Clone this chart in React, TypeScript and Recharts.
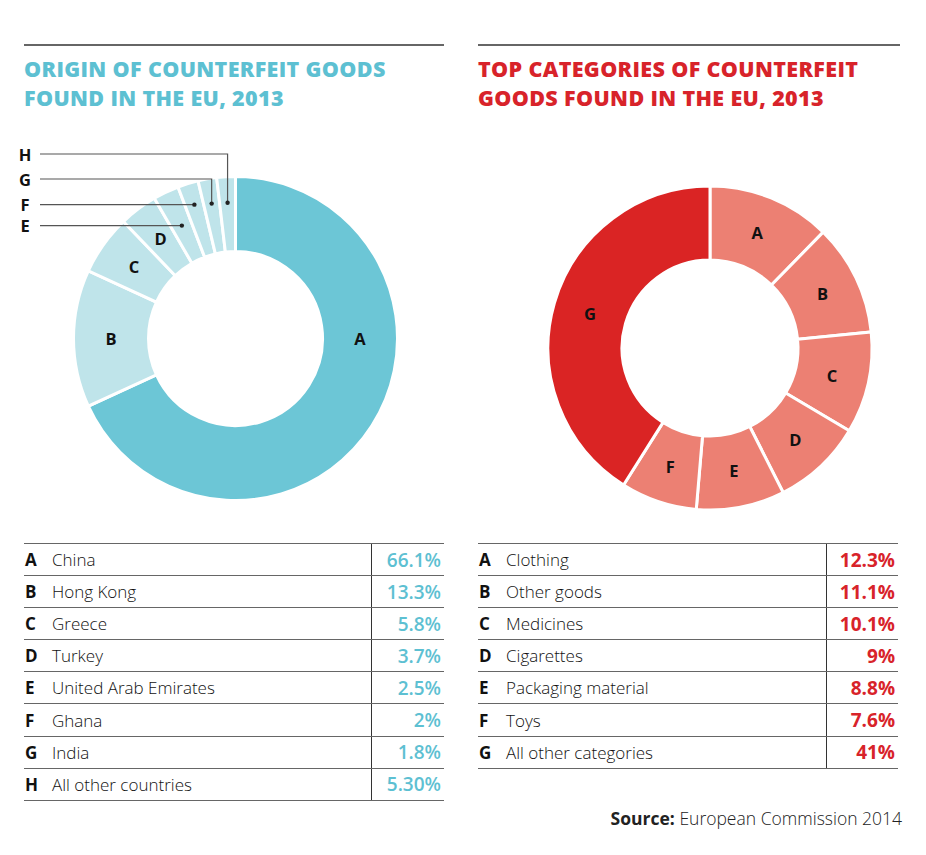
import React from "react";
import { PieChart, Pie, Cell } from "recharts";

// Origin of counterfeit goods (left donut + table)
const originKeys = ["A", "B", "C", "D", "E", "F", "G", "H"];
const originNames = [
  "China",
  "Hong Kong",
  "Greece",
  "Turkey",
  "United Arab Emirates",
  "Ghana",
  "India",
  "All other countries",
];
const originPctText = ["66.1%", "13.3%", "5.8%", "3.7%", "2.5%", "2%", "1.8%", "5.30%"];
// slice sizes as drawn (H is drawn as a thin sliver, not 5.3%)
const originArc = [66.1, 13.3, 5.8, 3.7, 2.5, 2, 1.8, 1.8];

// Top categories (right donut + table)
const catKeys = ["A", "B", "C", "D", "E", "F", "G"];
const catNames = [
  "Clothing",
  "Other goods",
  "Medicines",
  "Cigarettes",
  "Packaging material",
  "Toys",
  "All other categories",
];
const catPctText = ["12.3%", "11.1%", "10.1%", "9%", "8.8%", "7.6%", "41%"];
const catArc = [12.3, 11.1, 10.1, 9, 8.8, 7.6, 41];

const TEAL = "#6cc6d6";
const TEAL_LIGHT = "#bfe4ea";
const TEAL_TEXT = "#5dc0d2";
const RED = "#da2424";
const RED_LIGHT = "#ec8073";
const RED_TEXT = "#d8232a";
const RULE = "#666";

const FONT = "'Open Sans', Lato, sans-serif";
const RAD = Math.PI / 180;

const originData = originKeys.map((k, i) => ({ key: k, value: originArc[i] }));
const catData = catKeys.map((k, i) => ({ key: k, value: catArc[i] }));

// leader lines for the small slices E..H (row y in chart px, null = straight line)
const leaderRow: Record<number, number | null> = { 4: null, 5: null, 6: 49, 7: 24 };
const leaderRadius: Record<number, number> = { 4: 125, 5: 140, 6: 137, 7: 136 };

const letterStyle = { fontFamily: FONT, fontWeight: 700, fontSize: 16.5, fill: "#111" };

function OriginLabel(p: any) {
  const { cx, cy, midAngle, innerRadius, outerRadius, index } = p;
  const key = originKeys[index];
  if (index < 4) {
    // A sits at 3 o'clock in the original
    const ang = index === 0 ? 0 : midAngle;
    const r = (innerRadius + outerRadius) / 2;
    return (
      <text
        x={cx + r * Math.cos(-ang * RAD)}
        y={cy + r * Math.sin(-ang * RAD)}
        textAnchor="middle"
        dominantBaseline="central"
        style={letterStyle}
      >
        {key}
      </text>
    );
  }
  const r = leaderRadius[index];
  const dx = cx + r * Math.cos(-midAngle * RAD);
  const dy = cy + r * Math.sin(-midAngle * RAD);
  const rowY = leaderRow[index] ?? dy;
  return (
    <g>
      <polyline
        points={`40,${rowY} ${dx},${rowY} ${dx},${dy}`}
        fill="none"
        stroke="#555"
        strokeWidth={1.2}
      />
      <circle cx={dx} cy={dy} r={2.2} fill="#222" />
      <text x={25} y={rowY} textAnchor="middle" dominantBaseline="central" style={letterStyle}>
        {key}
      </text>
    </g>
  );
}

function CatLabel(p: any) {
  const { cx, cy, midAngle, innerRadius, outerRadius, index } = p;
  const r = (innerRadius + outerRadius) / 2;
  return (
    <text
      x={cx + r * Math.cos(-midAngle * RAD)}
      y={cy + r * Math.sin(-midAngle * RAD)}
      textAnchor="middle"
      dominantBaseline="central"
      style={letterStyle}
    >
      {catKeys[index]}
    </text>
  );
}

function Title({ left, color, lines }: { left: number; color: string; lines: string[] }) {
  return (
    <div
      style={{
        position: "absolute",
        left,
        top: 55,
        color,
        fontFamily: FONT,
        fontWeight: 800,
        fontSize: 21.5,
        letterSpacing: 0.35,
        lineHeight: "28.5px",
        whiteSpace: "nowrap",
      }}
    >
      {lines.map((l) => (
        <div key={l}>{l}</div>
      ))}
    </div>
  );
}

function Table({
  left,
  keys,
  names,
  pcts,
  color,
  divider,
  pctWeight,
}: {
  left: number;
  keys: string[];
  names: string[];
  pcts: string[];
  color: string;
  divider: number;
  pctWeight: number;
}) {
  const rowH = 32.1;
  return (
    <div
      style={{
        position: "absolute",
        left,
        top: 543,
        width: 420,
        height: rowH * keys.length,
        borderTop: `1px solid ${RULE}`,
        fontFamily: FONT,
      }}
    >
      <div
        style={{
          position: "absolute",
          left: divider,
          top: 0,
          width: 1,
          height: rowH * keys.length,
          background: "#333",
        }}
      />
      {keys.map((k, i) => (
        <div
          key={k}
          style={{
            position: "absolute",
            left: 0,
            top: i * rowH,
            width: 420,
            height: rowH,
            borderBottom: `1px solid ${RULE}`,
            boxSizing: "border-box",
            display: "flex",
            alignItems: "center",
          }}
        >
          <span style={{ width: 27, fontWeight: 700, fontSize: 17, color: "#111", paddingLeft: 1 }}>{k}</span>
          <span style={{ fontWeight: 300, fontSize: 17, color: "#111" }}>{names[i]}</span>
          <span
            style={{
              position: "absolute",
              right: 3,
              fontWeight: pctWeight,
              fontSize: 19,
              color,
            }}
          >
            {pcts[i]}
          </span>
        </div>
      ))}
    </div>
  );
}

export default function App() {
  return (
    <div
      style={{
        position: "absolute",
        left: 0,
        top: 0,
        width: 926,
        height: 855,
        background: "#fff",
        overflow: "hidden",
      }}
    >
      {/* top rules */}
      <div style={{ position: "absolute", left: 24, top: 44, width: 420, height: 1.5, background: RULE }} />
      <div style={{ position: "absolute", left: 478, top: 44, width: 422, height: 1.5, background: RULE }} />

      <Title left={24} color={TEAL_TEXT} lines={["ORIGIN OF COUNTERFEIT GOODS", "FOUND IN THE EU, 2013"]} />
      <Title left={478} color={RED_TEXT} lines={["TOP CATEGORIES OF COUNTERFEIT", "GOODS FOUND IN THE EU, 2013"]} />

      <div style={{ position: "absolute", left: 0, top: 130 }}>
        <PieChart width={470} height={400} margin={{ top: 0, right: 0, bottom: 0, left: 0 }}>
          <Pie
            data={originData}
            dataKey="value"
            nameKey="key"
            cx={235.5}
            cy={208.5}
            innerRadius={87}
            outerRadius={162}
            startAngle={90}
            endAngle={-270}
            stroke="#fff"
            strokeWidth={3}
            label={OriginLabel}
            labelLine={false}
            isAnimationActive={false}
          >
            {originData.map((d, i) => (
              <Cell key={d.key} fill={i === 0 ? TEAL : TEAL_LIGHT} />
            ))}
          </Pie>
        </PieChart>
      </div>

      <div style={{ position: "absolute", left: 470, top: 130 }}>
        <PieChart width={456} height={400} margin={{ top: 0, right: 0, bottom: 0, left: 0 }}>
          <Pie
            data={catData}
            dataKey="value"
            nameKey="key"
            cx={240}
            cy={218}
            innerRadius={88}
            outerRadius={162}
            startAngle={90}
            endAngle={-270}
            stroke="#fff"
            strokeWidth={3}
            label={CatLabel}
            labelLine={false}
            isAnimationActive={false}
          >
            {catData.map((d, i) => (
              <Cell key={d.key} fill={i === catData.length - 1 ? RED : RED_LIGHT} />
            ))}
          </Pie>
        </PieChart>
      </div>

      <Table left={24} keys={originKeys} names={originNames} pcts={originPctText} color={TEAL_TEXT} divider={347} pctWeight={600} />
      <Table left={478} keys={catKeys} names={catNames} pcts={catPctText} color={RED_TEXT} divider={348} pctWeight={700} />

      <div
        style={{
          position: "absolute",
          right: 24,
          top: 806,
          fontFamily: FONT,
          fontSize: 17.5,
          color: "#222",
          whiteSpace: "nowrap",
        }}
      >
        <span style={{ fontWeight: 700 }}>Source:</span>{" "}
        <span style={{ fontWeight: 300 }}>European Commission 2014</span>
      </div>
    </div>
  );
}
